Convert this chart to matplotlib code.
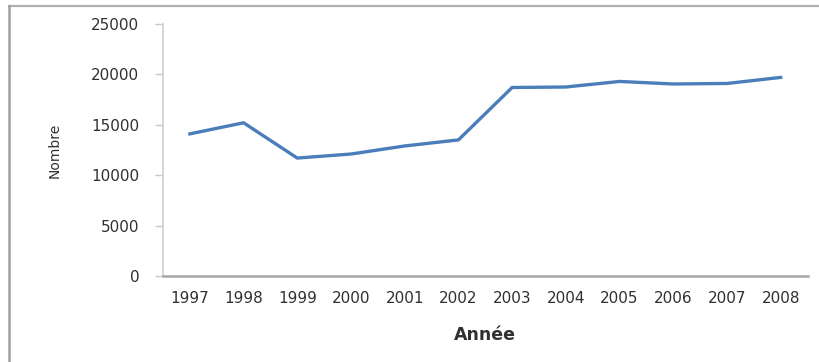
import matplotlib.pyplot as plt
from matplotlib.lines import Line2D

annees = ["1997", "1998", "1999", "2000", "2001", "2002",
          "2003", "2004", "2005", "2006", "2007", "2008"]
nombre = [14100, 15200, 11700, 12100, 12900, 13500,
          18700, 18750, 19300, 19050, 19100, 19700]
yticks = [0, 5000, 10000, 15000, 20000, 25000]

fig = plt.figure(figsize=(8.2, 3.62), dpi=100)
ax = fig.add_axes([0.1988, 0.2376, 0.7860, 0.6961])

x = range(len(annees))
ax.plot(x, nombre, color="#4a7ebb", lw=2.4, solid_joinstyle="round")

ax.set_xlim(-0.5, len(annees) - 0.5)
ax.set_ylim(0, 25000)
ax.set_yticks(yticks)
ax.set_yticklabels([str(v) for v in yticks])
ax.set_xticks(list(x))
ax.set_xticklabels(annees)

for s in ["top", "right"]:
    ax.spines[s].set_visible(False)
ax.spines["left"].set_color("#d0d0d0")
ax.spines["left"].set_linewidth(1.2)
ax.spines["bottom"].set_color("#a6a6a6")
ax.spines["bottom"].set_linewidth(1.8)

ax.tick_params(axis="y", length=6, width=1, color="#c8c8c8", pad=11,
               labelsize=11, labelcolor="#303030")
ax.tick_params(axis="x", length=0, pad=11, labelsize=11, labelcolor="#303030")

ax.set_ylabel("Nombre", fontsize=10, color="#303030")
ax.yaxis.set_label_coords(-0.158, 0.5)
ax.set_xlabel("Année", fontsize=12.5, fontweight="bold", color="#303030")
ax.xaxis.set_label_coords(0.4995, -0.2)

# cadre du graphique (haut et gauche)
fig.add_artist(Line2D([9 / 820, 1.0], [1 - 6 / 362, 1 - 6 / 362],
                      transform=fig.transFigure, color="#b0b0b0", lw=1.6))
fig.add_artist(Line2D([9 / 820, 9 / 820], [0, 1 - 6 / 362],
                      transform=fig.transFigure, color="#a0a0a0", lw=1.8))

fig.savefig("out.png", dpi=100)
